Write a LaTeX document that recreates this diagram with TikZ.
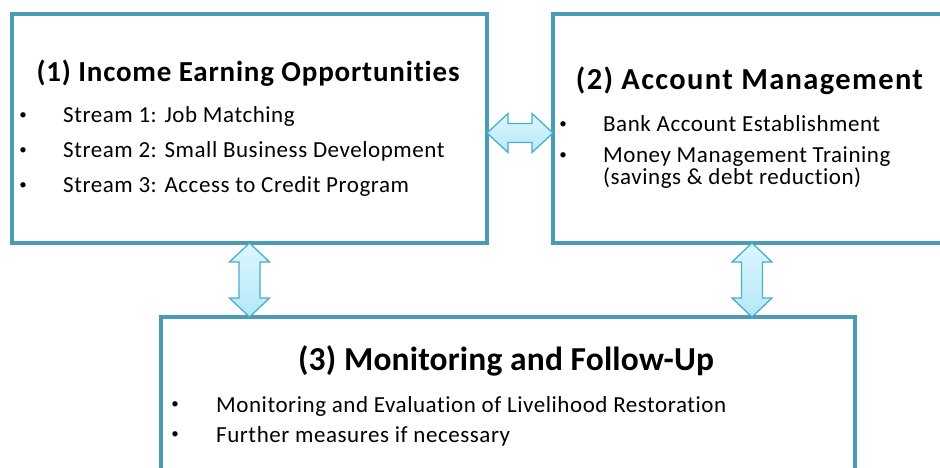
\documentclass[tikz,border=0pt]{standalone}
\usepackage{fontspec}
\setmainfont[Ligatures=NoCommon]{Carlito}
\newfontfamily\itmfont[LetterSpace=2.4,Ligatures=NoCommon]{Carlito}
\newfontfamily\ttlAfont[LetterSpace=2.8,Ligatures=NoCommon]{Carlito}
\newfontfamily\ttlBfont[LetterSpace=4.5,Ligatures=NoCommon]{Carlito}
\newfontfamily\ttlCfont[LetterSpace=0.5,Ligatures=NoCommon]{Carlito}
\usetikzlibrary{calc}
\definecolor{boxline}{HTML}{4A9CB5}
\definecolor{arrline}{HTML}{4AAECB}
\definecolor{arrtop}{HTML}{DDF7FE}
\definecolor{arrbot}{HTML}{B3E8F7}
\tikzset{
  panel/.style={draw=boxline, line width=4pt, fill=white, inner sep=0pt, outer sep=0pt, rectangle},
  dblarr/.style={draw=arrline, line width=1.3pt, top color=arrtop, bottom color=arrbot, line join=miter},
  arrshadow/.style={fill=black!35, opacity=0.45},
  ttlA/.style={font=\ttlAfont\fontsize{29}{34}\selectfont\bfseries, anchor=base, inner sep=0pt},
  ttlB/.style={font=\ttlBfont\fontsize{30.5}{34}\selectfont\bfseries, anchor=base, inner sep=0pt},
  ttlC/.style={font=\ttlCfont\fontsize{33.5}{38}\selectfont\bfseries, anchor=base, inner sep=0pt},
  itm/.style={font=\itmfont\fontsize{23}{28}\selectfont, anchor=base west, inner sep=0pt},
  bul/.style={font=\fontsize{15}{18}\selectfont, anchor=center, inner sep=0pt},
}
\newcommand{\hdbl}[3]{% #1 left tip, #2 right tip, #3 style
  \path[#3] (#1) -- ($(#1)+(21,-19.5)$) -- ($(#1)+(21,-9.5)$) -- ($(#2)+(-21,-9.5)$) -- ($(#2)+(-21,-19.5)$) -- (#2)
   -- ($(#2)+(-21,19.5)$) -- ($(#2)+(-21,9.5)$) -- ($(#1)+(21,9.5)$) -- ($(#1)+(21,19.5)$) -- cycle;}
\newcommand{\vdbl}[3]{% #1 top tip, #2 bottom tip, #3 style
  \path[#3] (#1) -- ($(#1)+(-20,19)$) -- ($(#1)+(-10.5,19)$) -- ($(#2)+(-10.5,-19)$) -- ($(#2)+(-20,-19)$) -- (#2)
   -- ($(#2)+(20,-19)$) -- ($(#2)+(10.5,-19)$) -- ($(#1)+(10.5,19)$) -- ($(#1)+(20,19)$) -- cycle;}
\begin{document}
\begin{tikzpicture}[x=1pt,y=-1pt]
\clip (0,0) rectangle (940,468);
\fill[white] (0,0) rectangle (940,468);
% panels
\node[panel, minimum width=475pt, minimum height=229pt] (b1) at (249.5,128.5) {};
\node[panel, minimum width=420pt, minimum height=229pt] (b2) at (763,128.5) {};
\node[panel, minimum width=694pt, minimum height=200pt] (b3) at (508,417) {};
% connector end points
\coordinate (h1) at (b1.east |- 0,133);
\coordinate (h2) at (b2.west |- 0,133);
\coordinate (v1t) at (b1.south);
\coordinate (v1b) at (b3.north -| b1.south);
\coordinate (v2t) at (b2.south -| 752,0);
\coordinate (v2b) at (b3.north -| 752,0);
% shadows
\begin{scope}[shift={(3,4)}]
\hdbl{h1}{h2}{arrshadow}
\vdbl{v1t}{v1b}{arrshadow}
\vdbl{v2t}{v2b}{arrshadow}
\end{scope}
% double arrows
\hdbl{h1}{h2}{dblarr}
\vdbl{v1t}{v1b}{dblarr}
\vdbl{v2t}{v2b}{dblarr}
% box 1 text
\node[ttlA] (t1) at (248,82) {(1) Income Earning Opportunities};
\node[bul] (p11) at (23,116) {•};
\node[itm] (i11) at (63,123) {Stream 1: Job Matching};
\node[bul] (p12) at (23,151) {•};
\node[itm] (i12) at (63,158) {Stream 2: Small Business Development};
\node[bul] (p13) at (23,186) {•};
\node[itm] (i13) at (63,193) {Stream 3: Access to Credit Program};
% box 2 text
\node[ttlB] (t2) at (749.5,90) {(2) Account Management};
\node[bul] (p21) at (563,125) {•};
\node[itm] (i21) at (603,132) {Bank Account Establishment};
\node[bul] (p22) at (563,156) {•};
\node[itm] (i22) at (603,163) {Money Management Training};
\node[itm] (i23) at (603,185) {(savings \& debt reduction)};
% box 3 text
\node[ttlC] (t3) at (506,370) {(3) Monitoring and Follow-Up};
\node[bul] (p31) at (175,405) {•};
\node[itm] (i31) at (216,412) {Monitoring and Evaluation of Livelihood Restoration};
\node[bul] (p32) at (175,435) {•};
\node[itm] (i32) at (216,442) {Further measures if necessary};
\end{tikzpicture}
\end{document}
